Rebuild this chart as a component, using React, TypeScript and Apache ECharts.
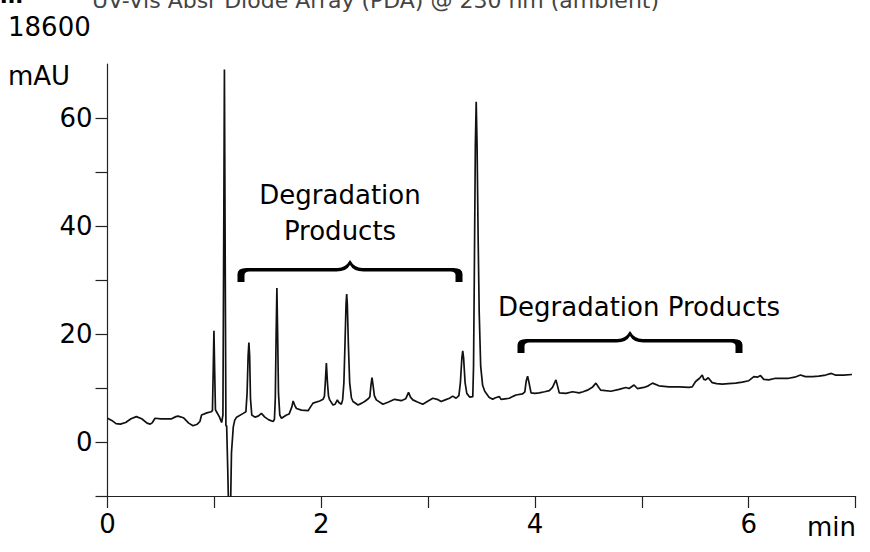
import React, { useEffect, useRef } from "react";
import * as echarts from "echarts";

// Retention time (min)
const TIME_MIN: number[] = [
  0.0, 0.04, 0.08, 0.12, 0.17, 0.22, 0.27, 0.32, 0.37, 0.4, 0.42, 0.445, 0.5, 0.55, 0.6, 0.64, 0.66, 0.71, 0.76, 0.8,
  0.84, 0.865, 0.88, 0.93, 0.97,
  0.982, 0.99, 0.996, 1.002, 1.01, 1.02, 1.046, 1.068,
  1.08, 1.088, 1.094, 1.1, 1.108, 1.115, 1.125, 1.135, 1.15, 1.16, 1.165, 1.177, 1.19, 1.208, 1.27,
  1.295, 1.306, 1.316, 1.323, 1.33, 1.338, 1.35, 1.379, 1.41, 1.44, 1.472, 1.51, 1.55,
  1.562, 1.57, 1.578, 1.585, 1.592, 1.6, 1.612, 1.628, 1.675, 1.7, 1.725, 1.737, 1.752, 1.768, 1.815, 1.877, 1.9, 1.923,
  1.986, 2.017,
  2.03, 2.038, 2.048, 2.058, 2.068, 2.079, 2.11, 2.13, 2.151, 2.165, 2.188,
  2.2, 2.212, 2.222, 2.232, 2.238, 2.244, 2.254, 2.266, 2.282, 2.297, 2.344, 2.38, 2.406, 2.44,
  2.455, 2.465, 2.475, 2.485, 2.497, 2.515, 2.577, 2.63, 2.686, 2.749, 2.79, 2.817, 2.835, 2.857, 2.9, 2.95, 3.0,
  3.044, 3.085, 3.122, 3.16, 3.2, 3.23, 3.262,
  3.288, 3.302, 3.316, 3.324, 3.332, 3.346, 3.362, 3.39, 3.418,
  3.425, 3.432, 3.442, 3.45, 3.458, 3.468, 3.478, 3.492, 3.51, 3.53, 3.545, 3.57, 3.604, 3.63, 3.667, 3.682, 3.72,
  3.76, 3.8, 3.823, 3.884,
  3.905, 3.918, 3.931, 3.944, 3.963, 4.0, 4.04, 4.09, 4.134, 4.164, 4.196, 4.212, 4.227, 4.29, 4.351, 4.414, 4.45,
  4.491, 4.54, 4.57, 4.6, 4.616, 4.66, 4.71, 4.787, 4.85, 4.88, 4.927, 4.958, 5.02, 5.06, 5.1, 5.16, 5.254, 5.35,
  5.44, 5.471, 5.503, 5.54, 5.565, 5.58, 5.597, 5.621, 5.658, 5.7, 5.752, 5.81, 5.877, 5.94, 6.001, 6.048, 6.08,
  6.11, 6.141, 6.188, 6.25, 6.31, 6.374, 6.43, 6.484, 6.53, 6.6, 6.655, 6.72, 6.773, 6.81, 6.89, 6.966,
];

// Absorbance (mAU)
const SIGNAL_MAU: number[] = [
  4.4, 4.0, 3.4, 3.3, 3.6, 4.3, 4.7, 4.3, 3.5, 3.3, 3.6, 4.4, 4.3, 4.3, 4.3, 4.7, 4.8, 4.5, 3.5, 3.0,
  3.3, 3.8, 5.0, 5.4, 5.6,
  5.8, 14.0, 20.6, 14.0, 6.0, 5.6, 4.7, 3.6,
  5.0, 40, 69, 40, 3.0, 3.0, -5, -14, -14, -2, -2, 2.8, 4.0, 4.6, 5.3,
  5.6, 9, 16, 18.4, 16, 8, 5.0, 4.6, 4.8, 5.3, 4.6, 4.1, 3.8,
  4.2, 8, 20, 28.5, 20, 9, 5.0, 4.4, 5.0, 5.2, 6.5, 7.6, 6.8, 6.2, 5.9, 5.8, 6.5, 7.2,
  7.6, 7.9,
  8.5, 11, 14.6, 11, 8.5, 7.8, 6.85, 7.0, 7.8, 7.3, 7.0,
  7.8, 11, 18, 25.5, 27.4, 25.5, 18, 11, 8.2, 7.5, 6.85, 7.2, 7.5, 8.0,
  8.4, 10.5, 11.9, 10.5, 8.6, 7.8, 7.0, 7.4, 7.9, 7.65, 8.0, 9.2, 8.3, 7.8, 7.4, 7.0, 7.6,
  8.1, 7.9, 7.5, 7.8, 8.1, 8.5, 8.1,
  8.6, 11, 15.6, 16.9, 15.6, 11, 9.0, 8.3, 8.4,
  14, 30, 55, 63, 55, 38, 24, 14, 10.5, 9.4, 9.0, 8.3, 7.9, 8.2, 8.4, 7.9, 8.0,
  8.1, 8.5, 8.7, 8.9,
  9.3, 11.3, 12.2, 11.0, 9.1, 9.0, 9.1, 9.3, 9.5, 10.1, 11.5, 10.3, 9.1, 9.0, 9.3, 9.1, 9.3,
  9.6, 10.2, 10.9, 10.0, 9.6, 9.5, 9.4, 9.75, 10.1, 9.9, 10.55, 9.9, 10.1, 10.4, 10.9, 10.4, 10.2, 10.2,
  10.1, 10.2, 11.2, 11.8, 12.4, 11.6, 11.5, 11.9, 11.0, 10.8, 10.7, 10.8, 10.9, 11.1, 11.35, 12.1, 12.0,
  12.3, 11.6, 11.5, 11.8, 11.8, 11.8, 12.0, 12.4, 12.1, 12.1, 12.2, 12.4, 12.7, 12.4, 12.4, 12.5,
];

const X_TICKS: number[] = [0, 1, 2, 3, 4, 5, 6, 7];
const X_LABELS: number[] = [0, 2, 4, 6];
const Y_TICKS: number[] = [-10, 0, 10, 20, 30, 40, 50, 60];
const Y_LABELS: number[] = [0, 20, 40, 60];

const TITLE = "UV-Vis Absr Diode Array (PDA) @ 230 nm (ambient)";
const Y_SCALE_TEXT = "18600";
const Y_UNIT = "mAU";
const X_UNIT = "min";
const ANNOT_1 = ["Degradation", "Products"];
const ANNOT_2 = "Degradation Products";

const FONT = "'DejaVu Sans', Verdana, sans-serif";

const BRACE_D =
  "M0 14 L0 6 Q0 0 9 0 L100 0 Q108 0 112.5 -8 Q117 0 125 0 L216 0 Q225 0 225 6 L225 14 L218 14 L218 7 Q218 3.5 213 3.5 L126 3.5 Q116 3.5 112.5 -3 Q109 3.5 99 3.5 L12 3.5 Q7 3.5 7 7 L7 14 Z";

let braceRegistered = false;

export default function App() {
  const ref = useRef<HTMLDivElement>(null);

  useEffect(() => {
    if (!ref.current) return;
    if (!braceRegistered) {
      echarts.graphic.registerShape("brace", echarts.graphic.extendPath(BRACE_D, {}));
      braceRegistered = true;
    }
    const chart = echarts.init(ref.current, null, { renderer: "svg" });
    const data = TIME_MIN.map((t, i) => [t, SIGNAL_MAU[i]]);
    const axisColor = "#222";

    chart.setOption({
      animation: false,
      backgroundColor: "#fff",
      grid: { left: 107.5, right: 14.4, top: 64, bottom: 56, containLabel: false },
      xAxis: {
        type: "value",
        min: 0,
        max: 7,
        interval: 1,
        axisLine: { show: true, onZero: false, lineStyle: { color: axisColor, width: 1.2 } },
        axisTick: { show: true, length: 12, customValues: X_TICKS, lineStyle: { color: axisColor, width: 1.2 } },
        axisLabel: {
          customValues: X_LABELS,
          formatter: (v: number) => String(v),
          fontSize: 26,
          fontFamily: FONT,
          color: "#000",
          margin: 15,
        },
        splitLine: { show: false },
      },
      yAxis: {
        type: "value",
        min: -10,
        max: 70,
        interval: 10,
        axisLine: { show: true, onZero: false, lineStyle: { color: axisColor, width: 1.2 } },
        axisTick: { show: true, length: 12, customValues: Y_TICKS, lineStyle: { color: axisColor, width: 1.2 } },
        axisLabel: {
          customValues: Y_LABELS,
          formatter: (v: number) => String(v),
          fontSize: 26,
          fontFamily: FONT,
          color: "#000",
          margin: 15,
        },
        splitLine: { show: false },
      },
      series: [
        {
          type: "line",
          data,
          showSymbol: false,
          symbol: "none",
          clip: true,
          silent: true,
          lineStyle: { color: "#111", width: 1.7 },
        },
      ],
      graphic: [
        {
          type: "text",
          x: 0,
          y: -5,
          style: { text: "m", font: `bold 22px ${FONT}`, fill: "#000", verticalAlign: "middle", align: "left" },
        },
        {
          type: "text",
          x: 92,
          y: 0,
          style: { text: TITLE, fontSize: 22, fontFamily: FONT, fill: "#444", verticalAlign: "middle", align: "left" },
        },
        {
          type: "text",
          x: 8,
          y: 27,
          style: { text: Y_SCALE_TEXT, fontSize: 26, fontFamily: FONT, fill: "#000", verticalAlign: "middle", align: "left" },
        },
        {
          type: "text",
          x: 8,
          y: 76,
          style: { text: Y_UNIT, fontSize: 26, fontFamily: FONT, fill: "#000", verticalAlign: "middle", align: "left" },
        },
        {
          type: "text",
          x: 856,
          y: 527,
          style: { text: X_UNIT, fontSize: 26, fontFamily: FONT, fill: "#000", verticalAlign: "middle", align: "right" },
        },
        {
          type: "text",
          x: 340,
          y: 195,
          style: { text: ANNOT_1[0], fontSize: 26, fontFamily: FONT, fill: "#000", verticalAlign: "middle", align: "center" },
        },
        {
          type: "text",
          x: 340,
          y: 231,
          style: { text: ANNOT_1[1], fontSize: 26, fontFamily: FONT, fill: "#000", verticalAlign: "middle", align: "center" },
        },
        {
          type: "text",
          x: 639,
          y: 307,
          style: { text: ANNOT_2, fontSize: 26, fontFamily: FONT, fill: "#000", verticalAlign: "middle", align: "center" },
        },
        { type: "brace", x: 237.5, y: 268, style: { fill: "#000", stroke: null } },
        { type: "brace", x: 517.5, y: 339, style: { fill: "#000", stroke: null } },
      ],
    });

    return () => {
      chart.dispose();
    };
  }, []);

  return (
    <div
      ref={ref}
      style={{ position: "absolute", left: 0, top: 0, width: 870, height: 552, background: "#fff" }}
    />
  );
}
